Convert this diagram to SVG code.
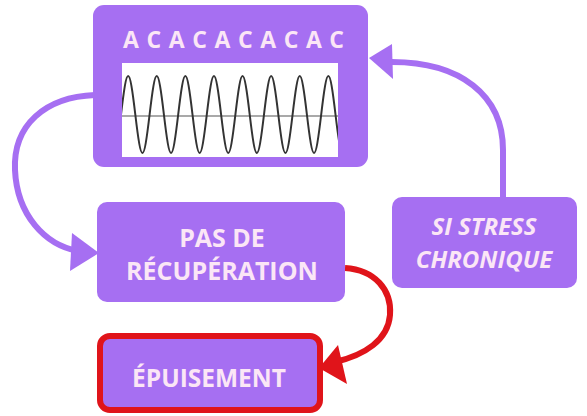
<svg xmlns="http://www.w3.org/2000/svg" width="587" height="416" viewBox="0 0 587 416">
<style>
.box{fill:#a66ff2}
.lbl{font-family:"Open Sans","Liberation Sans",sans-serif;font-weight:700;fill:#fbe6f6;text-anchor:middle}
.pc{fill:none;stroke:#a66ff2;stroke-width:6}
.rc{fill:none;stroke:#e0141a;stroke-width:6}
</style>
<defs>
<clipPath id="wc"><rect x="122" y="63" width="216" height="94"/></clipPath>
</defs>
<rect width="587" height="416" fill="#fff"/>
<g id="connectors">
<path class="pc" d="M95,95 C45,97 13,125 15,170 C17,215 45,245 78,251"/>
<polygon fill="#a66ff2" points="99,253 72,233 70,271"/>
<path class="pc" d="M503,198 L503,150 C503,95 460,62 392,62"/>
<polygon fill="#a66ff2" points="369,58 392,44 393,79"/>
<path class="rc" d="M345,268 C375,270 392,290 390,315 C388,340 365,355 335,362"/>
<polygon fill="#e0141a" points="319,368 338,345 347,384"/>
</g>
<g id="top">
<rect class="box" x="93" y="5" width="275" height="162" rx="11"/>
<text class="lbl" x="123" y="48" font-size="23" letter-spacing="7.6" style="text-anchor:start">ACACACACAC</text>
<rect x="122" y="63" width="216" height="94" fill="#fff"/>
<g clip-path="url(#wc)">
<line x1="122" y1="116" x2="338" y2="116" stroke="#555" stroke-width="1.2"/>
<path fill="none" stroke="#333" stroke-width="2" d="M106.7,114.5 c6.07,51.3 8.23,51.3 14.3,0 c6.07,-51.3 8.23,-51.3 14.3,0 c6.07,51.3 8.23,51.3 14.3,0 c6.07,-51.3 8.23,-51.3 14.3,0 c6.07,51.3 8.23,51.3 14.3,0 c6.07,-51.3 8.23,-51.3 14.3,0 c6.07,51.3 8.23,51.3 14.3,0 c6.07,-51.3 8.23,-51.3 14.3,0 c6.07,51.3 8.23,51.3 14.3,0 c6.07,-51.3 8.23,-51.3 14.3,0 c6.07,51.3 8.23,51.3 14.3,0 c6.07,-51.3 8.23,-51.3 14.3,0 c6.07,51.3 8.23,51.3 14.3,0 c6.07,-51.3 8.23,-51.3 14.3,0 c6.07,51.3 8.23,51.3 14.3,0 c6.07,-51.3 8.23,-51.3 14.3,0 c6.07,51.3 8.23,51.3 14.3,0 c6.07,-51.3 8.23,-51.3 14.3,0"/>
</g>
</g>
<g id="recup">
<rect class="box" x="97" y="202" width="248" height="100" rx="10"/>
<text class="lbl" x="222" y="247" font-size="25">PAS DE</text>
<text class="lbl" x="222" y="280" font-size="25">RÉCUPÉRATION</text>
</g>
<g id="stress">
<rect class="box" x="392" y="197" width="185" height="91" rx="10"/>
<text class="lbl" x="484" y="235" font-size="24" font-style="italic">SI STRESS</text>
<text class="lbl" x="484" y="268" font-size="24" font-style="italic">CHRONIQUE</text>
</g>
<g id="epuisement">
<rect class="box" x="100" y="336" width="220" height="74" rx="10" stroke="#e0141a" stroke-width="6"/>
<text class="lbl" x="209" y="387" font-size="24.5">ÉPUISEMENT</text>
</g>
</svg>
